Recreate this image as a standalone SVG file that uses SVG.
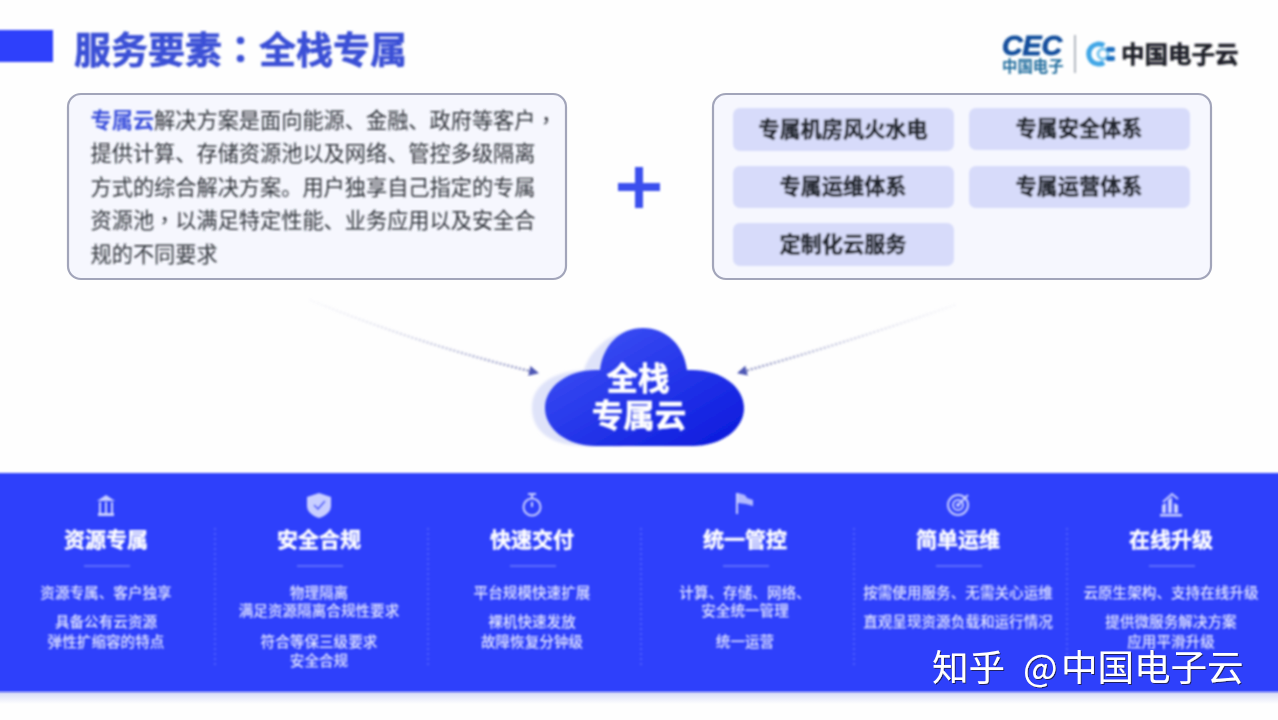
<svg xmlns="http://www.w3.org/2000/svg" width="1278" height="720" viewBox="0 0 1278 720">
<style>
text{font-family:"Noto Sans CJK SC","Noto Sans",sans-serif}
.tc{font-family:"Noto Sans CJK TC","Noto Sans",sans-serif}
.card{fill:#f6f7fe;stroke:#a2a5ba;stroke-width:2.2}
.body{font-size:21.2px;fill:#2e3239;dominant-baseline:central}
.chip{fill:#d7dbfa}
.chipt{font-size:21.2px;font-weight:700;fill:#23272f;stroke:#23272f;stroke-width:0.5;text-anchor:middle;dominant-baseline:central}
.ct{font-size:21px;font-weight:700;fill:#fff;stroke:#fff;stroke-width:0.4;text-anchor:middle;dominant-baseline:central}
.cd{font-size:14.6px;fill:#e4e7ff;text-anchor:middle;dominant-baseline:central;font-weight:500}
.rule{stroke:#8e9bff;stroke-width:1.2}
.div{stroke:#6f7dff;stroke-width:1;stroke-dasharray:2 3}
.ic{fill:none;stroke:#c9cfff;stroke-width:2}
.icf{fill:#c9cfff}
</style>
<defs>
<filter id="b" x="-5%" y="-5%" width="110%" height="110%"><feGaussianBlur stdDeviation="0.9"/></filter>
<filter id="b1" x="-5%" y="-5%" width="110%" height="110%"><feGaussianBlur stdDeviation="0.6"/></filter>
<filter id="b2" x="-20%" y="-20%" width="140%" height="140%"><feGaussianBlur stdDeviation="1.5"/></filter>
<filter id="wm" x="-5%" y="-20%" width="110%" height="140%"><feDropShadow dx="1" dy="1" stdDeviation="0.6" flood-color="#1a1f50" flood-opacity="0.9"/></filter>
<linearGradient id="cg" x1="0" y1="0" x2="1" y2="1"><stop offset="0" stop-color="#4256f8"/><stop offset="1" stop-color="#0a18dc"/></linearGradient>
<linearGradient id="al" gradientUnits="userSpaceOnUse" x1="310" y1="300" x2="538" y2="373"><stop offset="0" stop-color="#c9cbe0" stop-opacity="0.15"/><stop offset="1" stop-color="#7a80b8"/></linearGradient>
<linearGradient id="ar" gradientUnits="userSpaceOnUse" x1="955" y1="305" x2="738" y2="373"><stop offset="0" stop-color="#c9cbe0" stop-opacity="0.15"/><stop offset="1" stop-color="#7a80b8"/></linearGradient>
<marker id="ah" markerWidth="12" markerHeight="12" refX="9" refY="5" orient="auto" markerUnits="userSpaceOnUse"><path d="M0,0L10,5L0,10Z" fill="#4d57b4"/></marker>
<linearGradient id="sh" x1="0" y1="0" x2="0" y2="1"><stop offset="0" stop-color="#d5daf6"/><stop offset="1" stop-color="#fefefe"/></linearGradient>
</defs>
<rect width="1278" height="720" fill="#fefefe"/>

<g id="header" filter="url(#b)">
<rect x="-10" y="30" width="63" height="32" fill="#2f3ffb"/>
<text x="74" y="47.500" font-size="37" font-weight="700" fill="#3a4fd6" stroke="#3a4fd6" stroke-width="0.6" dominant-baseline="central">服务要素<tspan class="tc">：</tspan>全栈专属</text>
</g>

<g id="logo" filter="url(#b)">
<text x="1002" y="55" font-size="28.500" font-weight="700" font-style="italic" fill="#124d9c" stroke="#124d9c" stroke-width="0.8" style="font-family:'Liberation Sans',sans-serif">CEC</text>
<text x="1002" y="65" font-size="15.400" font-weight="700" fill="#1d6a9c" dominant-baseline="central">中国电子</text>
<line x1="1075" y1="35" x2="1075" y2="73" stroke="#7f8a99" stroke-width="1.2"/>
<path d="M1104,45.500A10,10 0 1 0 1104,62.500" fill="none" stroke="#3fa6e6" stroke-width="5"/>
<circle cx="1103" cy="54" r="5" fill="none" stroke="#7cc7ef" stroke-width="3"/>
<rect x="1106" y="47" width="9" height="5" rx="2" fill="#1f6fc0"/>
<rect x="1106" y="56" width="9" height="5" rx="2" fill="#1f6fc0"/>
<text x="1121" y="52.500" font-size="23.500" font-weight="700" fill="#1c1f26" stroke="#1c1f26" stroke-width="0.5" dominant-baseline="central">中国电子云</text>
</g>

<g id="desc-card">
<rect class="card" x="68" y="94" width="498" height="185" rx="13" filter="url(#b1)"/>
<g filter="url(#b)">
<text class="body" x="90.500" y="118"><tspan fill="#3a50dc" font-weight="700">专属云</tspan>解决方案是面向能源、金融、政府等客户<tspan class="tc">，</tspan></text>
<text class="body" x="90.500" y="151">提供计算、存储资源池以及网络、管控多级隔离</text>
<text class="body" x="90.500" y="185">方式的综合解决方案。用户独享自己指定的专属</text>
<text class="body" x="90.500" y="218">资源池<tspan class="tc">，</tspan>以满足特定性能、业务应用以及安全合</text>
<text class="body" x="90.500" y="252">规的不同要求</text>
</g>
</g>

<g id="plus" filter="url(#b)">
<rect x="618" y="183" width="42" height="8" fill="#3a50ee"/>
<rect x="635" y="167" width="8" height="41" fill="#3a50ee"/>
</g>

<g id="list-card">
<rect class="card" x="713" y="94" width="498" height="185" rx="13" filter="url(#b1)"/>
<g filter="url(#b)">
<rect class="chip" x="733" y="108" width="221" height="43" rx="7"/>
<rect class="chip" x="969" y="108" width="221" height="42" rx="7"/>
<rect class="chip" x="733" y="166" width="221" height="42" rx="7"/>
<rect class="chip" x="969" y="166" width="221" height="42" rx="7"/>
<rect class="chip" x="733" y="223" width="221" height="43" rx="7"/>
<text class="chipt" x="843" y="127">专属机房风火水电</text>
<text class="chipt" x="1079" y="126">专属安全体系</text>
<text class="chipt" x="843" y="184">专属运维体系</text>
<text class="chipt" x="1079" y="184">专属运营体系</text>
<text class="chipt" x="843" y="242">定制化云服务</text>
</g>
</g>

<g id="connectors" fill="none" stroke-width="2.400" stroke-dasharray="2 2" filter="url(#b)">
<path d="M310,300Q420,345 538,373" stroke="url(#al)" marker-end="url(#ah)"/>
<path d="M955,305Q840,345 738,373" stroke="url(#ar)" marker-end="url(#ah)"/>
</g>

<g id="cloud">
<path filter="url(#b2)" fill="#dfe3f9" d="M586,446C552,446 532,432 532,408C532,385 552,372 584,370C590,350 610,332 632,331L660,420L620,446Z"/>
<path filter="url(#b)" fill="url(#cg)" d="M596,446C567,446 545,429 545,408C545,387 567,370 596,370L600,370C603,345 620,328 643,328C666,328 684,345 687,370L692,370C722,370 744,387 744,408C744,429 722,446 692,446Z"/>
<g filter="url(#b)">
<text x="638" y="376" font-size="31.500" font-weight="700" fill="#fff" stroke="#fff" stroke-width="0.6" text-anchor="middle" dominant-baseline="central">全栈</text>
<text x="639" y="413" font-size="31.500" font-weight="700" fill="#fff" stroke="#fff" stroke-width="0.6" text-anchor="middle" dominant-baseline="central">专属云</text>
</g>
</g>

<g id="band">
<rect x="0" y="692" width="1278" height="12" fill="url(#sh)"/>
<rect x="-10" y="473" width="1298" height="219" fill="#2f40fb" filter="url(#b)"/>
<g filter="url(#b)">
<line class="div" x1="215" y1="528" x2="215" y2="668"/>
<line class="div" x1="428" y1="528" x2="428" y2="668"/>
<line class="div" x1="641" y1="528" x2="641" y2="668"/>
<line class="div" x1="854" y1="528" x2="854" y2="668"/>
<line class="div" x1="1067" y1="528" x2="1067" y2="668"/>
</g>
</g>

<g id="col-1" filter="url(#b)">
<path class="icf" d="M106,495L115,501H97Z"/><rect class="icf" x="98" y="513" width="16" height="3"/>
<path class="ic" d="M100,502V513M106,502V513M112,502V513"/>
<text class="ct" x="106" y="538">资源专属</text><line class="rule" x1="84" y1="566" x2="130" y2="566"/>
<text class="cd" x="106" y="591.500">资源专属、客户独享</text>
<text class="cd" x="106" y="620.500">具备公有云资源</text>
<text class="cd" x="106" y="640.500">弹性扩缩容的特点</text>
</g>
<g id="col-2" filter="url(#b)">
<path class="icf" d="M319,493L331,497V506C331,512 325,516 319,518C313,516 307,512 307,506V497Z"/>
<path d="M314,505L318,509L325,501" fill="none" stroke="#5a68fb" stroke-width="2"/>
<text class="ct" x="319" y="538">安全合规</text><line class="rule" x1="297" y1="566" x2="343" y2="566"/>
<text class="cd" x="319" y="591.500">物理隔离</text>
<text class="cd" x="319" y="609.500">满足资源隔离合规性要求</text>
<text class="cd" x="319" y="640.500">符合等保三级要求</text>
<text class="cd" x="319" y="659.500">安全合规</text>
</g>
<g id="col-3" filter="url(#b)">
<circle class="ic" cx="532" cy="507" r="8.500"/><path class="ic" d="M528,494H536M532,494V498M532,507V502"/>
<text class="ct" x="532" y="538">快速交付</text><line class="rule" x1="510" y1="566" x2="556" y2="566"/>
<text class="cd" x="532" y="591.500">平台规模快速扩展</text>
<text class="cd" x="532" y="620.500">裸机快速发放</text>
<text class="cd" x="532" y="640.500">故障恢复分钟级</text>
</g>
<g id="col-4" filter="url(#b)">
<path class="ic" stroke-width="1.400" d="M737,493V514"/>
<path class="icf" d="M738,493L745,495L747,498L753,500V506L746,504L738,503Z" opacity=".85"/>
<text class="ct" x="745" y="538">统一管控</text><line class="rule" x1="723" y1="566" x2="769" y2="566"/>
<text class="cd" x="745" y="591.500">计算、存储、网络、</text>
<text class="cd" x="745" y="609.500">安全统一管理</text>
<text class="cd" x="745" y="640.500">统一运营</text>
</g>
<g id="col-5" filter="url(#b)">
<circle class="ic" cx="958" cy="505" r="10"/><circle class="ic" cx="958" cy="505" r="5"/><circle class="icf" cx="958" cy="505" r="2"/><path class="ic" d="M958,505L968,495"/>
<text class="ct" x="958" y="538">简单运维</text><line class="rule" x1="936" y1="566" x2="982" y2="566"/>
<text class="cd" x="958" y="591.500">按需使用服务、无需关心运维</text>
<text class="cd" x="958" y="620.500">直观呈现资源负载和运行情况</text>
</g>
<g id="col-6" filter="url(#b)">
<path class="icf" d="M1162,513V505L1166,503V513ZM1168,513V500L1172,497V513ZM1174,513V503L1178,505V513Z"/><rect class="icf" x="1160" y="514" width="22" height="2.500"/>
<path class="ic" stroke-width="1.300" d="M1163,502L1172,494L1178,499"/>
<text class="ct" x="1171" y="538">在线升级</text><line class="rule" x1="1149" y1="566" x2="1195" y2="566"/>
<text class="cd" x="1171" y="591.500">云原生架构、支持在线升级</text>
<text class="cd" x="1171" y="620.500">提供微服务解决方案</text>
<text class="cd" x="1171" y="640.500">应用平滑升级</text>
</g>

<text id="watermark" y="665" font-size="36.500" fill="#fff" dominant-baseline="central" filter="url(#wm)"><tspan x="932">知乎</tspan><tspan x="1023">@</tspan><tspan x="1061">中国电子云</tspan></text>
</svg>
